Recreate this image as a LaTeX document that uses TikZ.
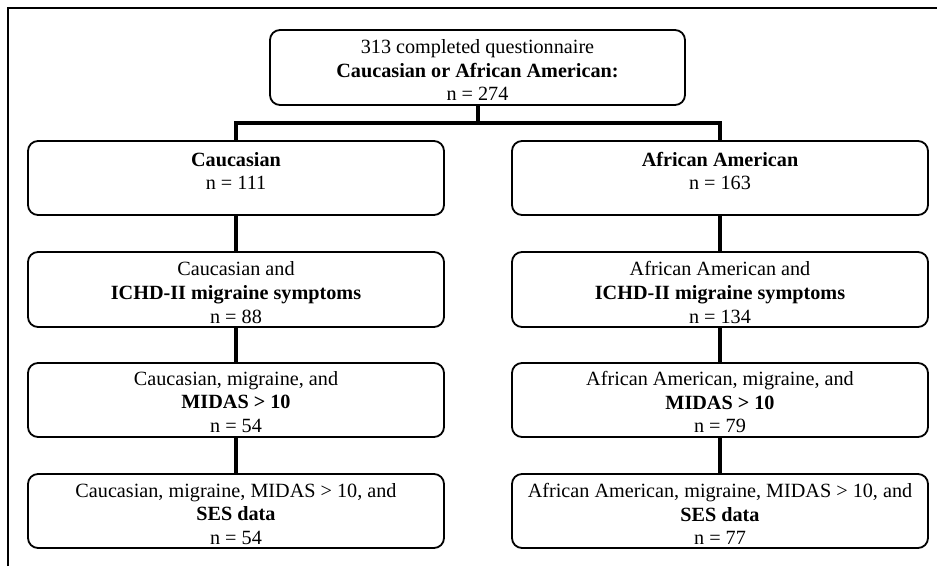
\documentclass[tikz,border=0pt]{standalone}
\usepackage{fontspec}
\setmainfont{Liberation Serif}
\begin{document}
\begin{tikzpicture}[x=1pt,y=-1pt,
  box/.style={draw, line width=1.8pt, rounded corners=10pt, minimum width=416pt,
    minimum height=74pt, inner sep=0pt},
  txt/.style={align=center, inner sep=0pt, font=\fontsize{20.2}{23.7}\selectfont},
  conn/.style={line width=3.2pt},
  frame/.style={line width=1.7pt}]
\useasboundingbox (0,0) rectangle (937,566);
\draw[frame] (8,566) -- (8,8) -- (937,8);
\node[box, minimum width=415pt, minimum height=75pt] (top) at (477.5,67.5) {};
\node[txt] (topt) at (477.5,70)
  {313 completed questionnaire\\\textbf{Caucasian or African American:}\\n = 274};
\node[box] (c1) at (236,178) {};
\node[txt] (c1t) at (236,171) {\textbf{Caucasian}\\n = 111};
\node[box] (a1) at (720,178) {};
\node[txt] (a1t) at (720,171) {\textbf{African American}\\n = 163};
\node[box, minimum height=75pt] (c2) at (236,289.5) {};
\node[txt] (c2t) at (236,292.5) {Caucasian and\\\textbf{ICHD-II migraine symptoms}\\n = 88};
\node[box, minimum height=75pt] (a2) at (720,289.5) {};
\node[txt] (a2t) at (720,292.5) {African American and\\\textbf{ICHD-II migraine symptoms}\\n = 134};
\node[box] (c3) at (236,400) {};
\node[txt] (c3t) at (236,402) {Caucasian, migraine, and\\\textbf{MIDAS > 10}\\n = 54};
\node[box] (a3) at (720,400) {};
\node[txt] (a3t) at (720,402) {African American, migraine, and\\\textbf{MIDAS > 10}\\n = 79};
\node[box] (c4) at (236,511) {};
\node[txt] (c4t) at (236,514) {Caucasian, migraine, MIDAS > 10, and\\\textbf{SES data}\\n = 54};
\node[box] (a4) at (720,511) {};
\node[txt] (a4t) at (720,514) {African American, migraine, MIDAS > 10, and\\\textbf{SES data}\\n = 77};
\coordinate (split) at (478,123);
\draw[conn] (top.south -| split) -- (split);
\draw[conn] (c1.north) |- (split) -| (a1.north);
\draw[conn] (c1.south) -- (c2.north);
\draw[conn] (c2.south) -- (c3.north);
\draw[conn] (c3.south) -- (c4.north);
\draw[conn] (a1.south) -- (a2.north);
\draw[conn] (a2.south) -- (a3.north);
\draw[conn] (a3.south) -- (a4.north);
\end{tikzpicture}
\end{document}
